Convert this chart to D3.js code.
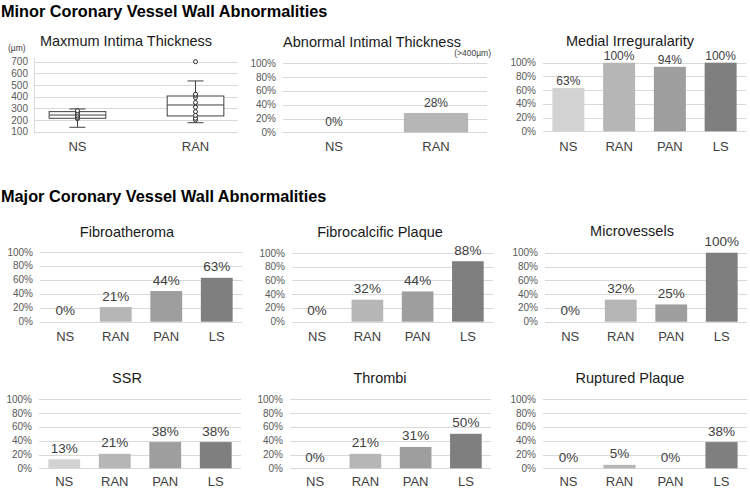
<!DOCTYPE html>
<html>
<head>
<meta charset="utf-8">
<script src="https://cdn.jsdelivr.net/npm/d3@7"></script>
<style>
  body { margin: 0; background: #fff; }
  svg text { font-family: Arial, "Liberation Sans", sans-serif; }
</style>
</head>
<body>
<div id="chart"></div>
<script>
// DATA
const groups2 = ["NS", "RAN"]
const groups4 = ["NS", "RAN", "PAN", "LS"]
const pctTicks = [0, 20, 40, 60, 80, 100]
const umTicks = [100, 200, 300, 400, 500, 600, 700]

// box plot summary (µm)
const boxStats = [
  { g: "NS", lo: 138, q1: 215, med: 243, q3: 272, hi: 295 },
  { g: "RAN", lo: 177, q1: 235, med: 329, q3: 406, hi: 535 }
]
const nsPoints = [212, 222, 235, 250, 265, 280]
const ranPoints = [200, 215, 240, 272, 310, 350, 392, 412, 422]
const ranOutliers = [700]

const abnormalThickness = [0, 28]
const medialIrreg = [63, 100, 94, 100]
const fibroatheroma = [0, 21, 44, 63]
const fibrocalcific = [0, 32, 44, 88]
const microvessels = [0, 32, 25, 100]
const ssr = [13, 21, 38, 38]
const thrombi = [0, 21, 31, 50]
const ruptured = [0, 5, 0, 38]

const barColor = { NS: "#d2d2d2", RAN: "#b6b6b6", PAN: "#9e9e9e", LS: "#7f7f7f" }

const width = 750, height = 489
const svg = d3.select("#chart").append("svg")
    .attr("width", width)
    .attr("height", height)

// SECTION HEADERS
svg.append("text").attr("x", 1).attr("y", 17)
    .attr("font-size", 16.3).attr("font-weight", "bold").attr("fill", "#000")
    .text("Minor Coronary Vessel Wall Abnormalities")
svg.append("text").attr("x", 1).attr("y", 202)
    .attr("font-size", 16.3).attr("font-weight", "bold").attr("fill", "#000")
    .text("Major Coronary Vessel Wall Abnormalities")

function gridAndTicks(g, y, ticks, x0, x1, fmt) {
  g.selectAll(".grid").data(ticks).join("line")
      .attr("x1", x0).attr("x2", x1)
      .attr("y1", d => Math.round(y(d)) + 0.5).attr("y2", d => Math.round(y(d)) + 0.5)
      .attr("stroke", "#d9d9d9").attr("stroke-width", 1)
  g.selectAll(".tick").data(ticks).join("text")
      .attr("x", x0 - 7).attr("y", d => y(d) + 3.5)
      .attr("text-anchor", "end").attr("font-size", 10).attr("fill", "#595959")
      .text(fmt)
}

function barPanel(cfg) {
  const g = svg.append("g")
  const x = d3.scaleBand().domain(cfg.cats).range([cfg.x0, cfg.x1]).paddingInner(0.37).paddingOuter(0.185)
  const y = d3.scaleLinear().domain([0, 100]).range([cfg.yBottom, cfg.yTop])
  gridAndTicks(g, y, pctTicks, cfg.x0, cfg.x1, d => d + "%")

  g.selectAll("rect").data(cfg.values).join("rect")
      .attr("x", (d, i) => x(cfg.cats[i]))
      .attr("width", x.bandwidth())
      .attr("y", d => y(d))
      .attr("height", d => y(0) - y(d))
      .attr("fill", (d, i) => barColor[cfg.cats[i]])

  g.selectAll(".val").data(cfg.values).join("text")
      .attr("x", (d, i) => x(cfg.cats[i]) + x.bandwidth() / 2)
      .attr("y", d => y(d) - cfg.labelGap)
      .attr("text-anchor", "middle").attr("font-size", cfg.valSize).attr("fill", "#404040")
      .text(d => d + "%")

  g.selectAll(".cat").data(cfg.cats).join("text")
      .attr("x", d => x(d) + x.bandwidth() / 2)
      .attr("y", cfg.catY)
      .attr("text-anchor", "middle").attr("font-size", 13).attr("fill", "#404040")
      .text(d => d)

  g.append("text").attr("x", cfg.titleX).attr("y", cfg.titleY)
      .attr("text-anchor", "middle").attr("font-size", 14.5).attr("fill", "#1a1a1a")
      .text(cfg.title)
  return g
}

// ROW 1 : box plot
{
  const g = svg.append("g")
  const x0 = 35, x1 = 238
  const x = d3.scaleBand().domain(groups2).range([x0, x1]).paddingInner(0.52).paddingOuter(0.12)
  const y = d3.scaleLinear().domain([100, 700]).range([131.7, 61.7])
  gridAndTicks(g, y, umTicks, x0, x1, d => d)

  g.append("line").attr("x1", 34.5).attr("x2", 34.5).attr("y1", 58).attr("y2", 134)
      .attr("stroke", "#d9d9d9")

  const cx = d => x(d) + x.bandwidth() / 2
  const box = g.selectAll(".box").data(boxStats).join("g")
  box.append("line")
      .attr("x1", d => cx(d.g)).attr("x2", d => cx(d.g))
      .attr("y1", d => y(d.lo)).attr("y2", d => y(d.hi))
      .attr("stroke", "#404040")
  box.append("line")
      .attr("x1", d => cx(d.g) - 8).attr("x2", d => cx(d.g) + 8)
      .attr("y1", d => y(d.lo)).attr("y2", d => y(d.lo))
      .attr("stroke", "#404040")
  box.append("line")
      .attr("x1", d => cx(d.g) - 8).attr("x2", d => cx(d.g) + 8)
      .attr("y1", d => y(d.hi)).attr("y2", d => y(d.hi))
      .attr("stroke", "#404040")
  box.append("rect")
      .attr("x", d => x(d.g)).attr("width", x.bandwidth())
      .attr("y", d => y(d.q3)).attr("height", d => y(d.q1) - y(d.q3))
      .attr("fill", "#fff").attr("stroke", "#404040")
  box.append("line")
      .attr("x1", d => x(d.g)).attr("x2", d => x(d.g) + x.bandwidth())
      .attr("y1", d => y(d.med)).attr("y2", d => y(d.med))
      .attr("stroke", "#404040")

  const pts = nsPoints.map(v => ({ g: "NS", v }))
      .concat(ranPoints.map(v => ({ g: "RAN", v })))
      .concat(ranOutliers.map(v => ({ g: "RAN", v })))
  g.selectAll(".pt").data(pts).join("circle")
      .attr("cx", d => cx(d.g)).attr("cy", d => y(d.v)).attr("r", 2)
      .attr("fill", "#fff").attr("stroke", "#262626").attr("stroke-width", 1)

  g.selectAll(".cat").data(groups2).join("text")
      .attr("x", d => cx(d)).attr("y", 151)
      .attr("text-anchor", "middle").attr("font-size", 13).attr("fill", "#404040")
      .text(d => d)

  g.append("text").attr("x", 126).attr("y", 46)
      .attr("text-anchor", "middle").attr("font-size", 14.5).attr("fill", "#1a1a1a")
      .text("Maxmum Intima Thickness")
  g.append("text").attr("x", 8).attr("y", 51)
      .attr("font-size", 8.5).attr("fill", "#404040")
      .text("(µm)")
}

barPanel({ title: "Abnormal Intimal Thickness", cats: groups2, values: abnormalThickness,
  x0: 283, x1: 487, yTop: 63.3, yBottom: 132.3, catY: 151, titleX: 372, titleY: 47,
  labelGap: 6, valSize: 12 })
svg.append("text").attr("x", 491).attr("y", 56).attr("text-anchor", "end")
    .attr("font-size", 8.5).attr("fill", "#404040").text("(>400µm)")

barPanel({ title: "Medial Irreguralarity", cats: groups4, values: medialIrreg,
  x0: 543, x1: 746, yTop: 62.7, yBottom: 131.3, catY: 151, titleX: 630, titleY: 46,
  labelGap: 3, valSize: 12 })

// ROW 2
barPanel({ title: "Fibroatheroma", cats: groups4, values: fibroatheroma,
  x0: 40, x1: 242, yTop: 252, yBottom: 321.7, catY: 341, titleX: 127, titleY: 237,
  labelGap: 6.5, valSize: 13.5 })
barPanel({ title: "Fibrocalcific Plaque", cats: groups4, values: fibrocalcific,
  x0: 292, x1: 493, yTop: 253, yBottom: 321.7, catY: 341, titleX: 380, titleY: 237,
  labelGap: 6.5, valSize: 13.5 })
barPanel({ title: "Microvessels", cats: groups4, values: microvessels,
  x0: 545, x1: 747, yTop: 252.7, yBottom: 321.7, catY: 341, titleX: 632, titleY: 236,
  labelGap: 6.5, valSize: 13.5 })

// ROW 3
barPanel({ title: "SSR", cats: groups4, values: ssr,
  x0: 39, x1: 241, yTop: 399.3, yBottom: 468.3, catY: 486, titleX: 127, titleY: 383,
  labelGap: 6.5, valSize: 13.5 })
barPanel({ title: "Thrombi", cats: groups4, values: thrombi,
  x0: 290, x1: 491, yTop: 399.3, yBottom: 468.3, catY: 486, titleX: 380, titleY: 383,
  labelGap: 6.5, valSize: 13.5 })
barPanel({ title: "Ruptured Plaque", cats: groups4, values: ruptured,
  x0: 543, x1: 747, yTop: 399.3, yBottom: 468.3, catY: 486, titleX: 630, titleY: 383,
  labelGap: 6.5, valSize: 13.5 })
</script>
</body>
</html>
